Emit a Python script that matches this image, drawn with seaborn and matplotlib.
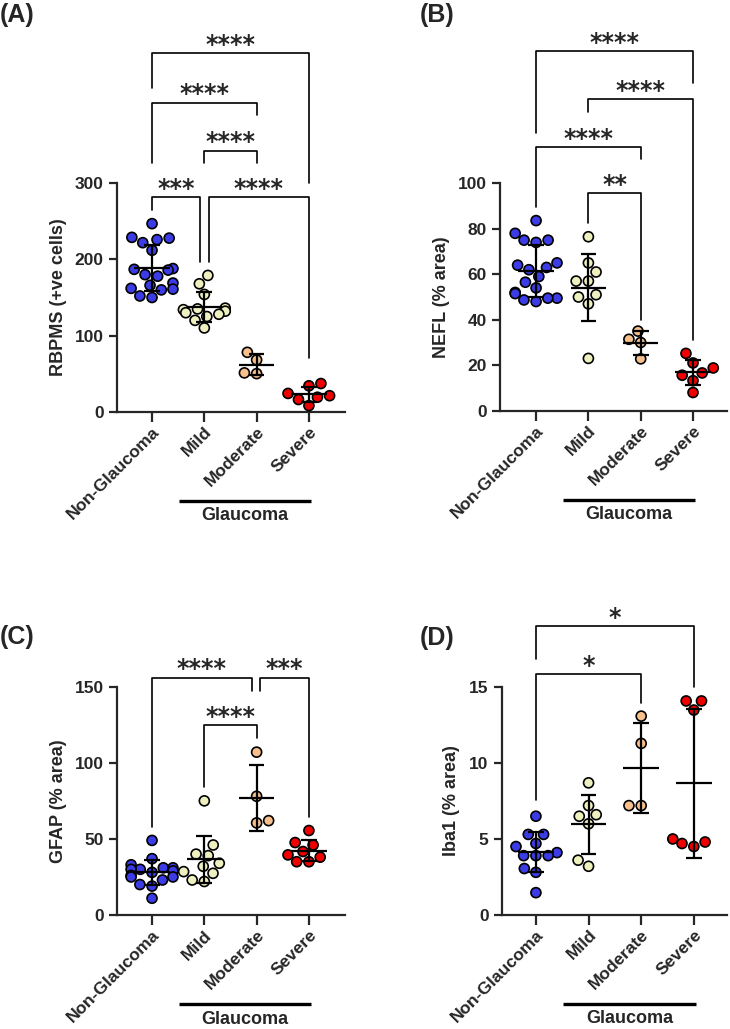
import numpy as np
import pandas as pd
import matplotlib
matplotlib.use('Agg')
import matplotlib.pyplot as plt
import seaborn as sns

groups = ['Non-Glaucoma', 'Mild', 'Moderate', 'Severe']
colors = ['#3C3CE6', '#EEF1BF', '#F7BF8C', '#F00000']

# (A) RBPMS (+ve cells)
rbpms_non = [247, 228, 229, 222, 226, 212, 187, 188, 186, 180, 178, 169, 166, 162, 161, 160, 150, 152]
rbpms_mild = [179, 168, 154, 136, 134, 132, 135, 130, 128, 125, 120, 110]
rbpms_mod = [78, 68, 50, 51]
rbpms_sev = [37, 34, 24, 21, 19, 16, 8]

# (B) NEFL (% area)
nefl_non = [83.6, 78, 75, 75, 74, 65, 64, 63, 62, 59, 56.5, 54, 52, 51.5, 48, 49.5, 48.7, 49.5]
nefl_mild = [76.5, 65, 61, 57, 57, 51, 50, 47, 23]
nefl_mod = [35, 31.4, 30, 22.8]
nefl_sev = [25.2, 21, 18.8, 16.6, 15.6, 13.2, 8]

# (C) GFAP (% area)
gfap_non = [49, 37, 33, 31, 31, 30, 30, 29, 28, 26, 25, 25, 23, 20, 19, 11]
gfap_mild = [75, 46, 40, 39, 34, 32, 28.5, 27.4, 23, 22]
gfap_mod = [107, 78, 62, 60.5]
gfap_sev = [55.5, 47.6, 46, 41.7, 39.5, 38, 35, 35]

# (D) Iba1 (% area)
iba1_non = [6.5, 5.3, 5.3, 4.7, 4.5, 4.1, 3.9, 3.9, 3.9, 3.05, 2.8, 1.46]
iba1_mild = [8.7, 7.2, 6.6, 6.5, 6.0, 3.6, 3.2]
iba1_mod = [13.1, 11.3, 7.2, 7.2]
iba1_sev = [14.1, 14.1, 13.5, 5.0, 4.8, 4.7, 4.5]

# significance brackets: (x1, x2, y, left leg bottom, right leg bottom, label)
brackets_a = [(0, 3, 471, 425, 300, '****'), (0, 2, 406, 327, 390, '****'),
              (1, 2, 343, 327, 327, '****'), (0, 0.91, 282, 265, 196, '***'),
              (1.08, 3, 282, 196, 70, '****')]
brackets_b = [(0, 3, 158, 122, 144, '****'), (1, 3, 137, 131.5, 31, '****'),
              (0, 2, 116, 89.7, 110.5, '****'), (1, 2, 95.6, 82.4, 40, '**')]
brackets_c = [(0, 1.91, 156, 58, 147, '****'), (2.07, 3, 156, 147, 64.5, '***'),
              (1, 2, 124.8, 84, 116, '****')]
brackets_d = [(0, 3, 19.04, 16.84, 15.04, '*'), (0, 2, 15.87, 7.57, 13.94, '*')]

sns.set_theme(style='ticks')
plt.rcParams['font.family'] = ['Liberation Sans', 'DejaVu Sans']
plt.rcParams['font.weight'] = 'bold'
plt.rcParams['axes.labelweight'] = 'bold'

W, H = 730, 1029
fig = plt.figure(figsize=(W / 100, H / 100), dpi=100)


def panel(values, ylabel, yticks, brackets, letter, letter_pos, px, xlim, label_x):
    # px = (left, right, y of zero, y of top tick, top of axes) in pixels
    left, right, y0, ytick_px, top = px
    ax = fig.add_axes([left / W, (H - y0) / H, (right - left) / W, (y0 - top) / H])
    scale = (y0 - ytick_px) / yticks[-1]
    ylim_top = (y0 - top) / scale

    df = pd.DataFrame({'group': np.repeat(groups, [len(v) for v in values]),
                       'value': np.concatenate(values)})
    sns.swarmplot(data=df, x='group', y='value', hue='group', order=groups,
                  palette=colors, legend=False, size=7.2, edgecolor='black',
                  linewidth=1.2, ax=ax, zorder=3)

    for i, v in enumerate(values):
        m, sd = np.mean(v), np.std(v, ddof=1)
        ax.hlines(m, i - 0.34, i + 0.34, color='black', lw=1.6, zorder=4)
        ax.hlines([m - sd, m + sd], i - 0.15, i + 0.15, color='black', lw=1.6, zorder=4)
        ax.vlines(i, m - sd, m + sd, color='black', lw=1.6, zorder=4)

    for x1, x2, y, lb, rb, lab in brackets:
        ax.plot([x1, x1, x2, x2], [lb, y, y, rb], color='black', lw=1.2, clip_on=False)
        ax.annotate(lab, ((x1 + x2) / 2, y), xytext=(0, 1), textcoords='offset points',
                    ha='center', va='baseline', fontsize=17, fontweight='bold',
                    family='DejaVu Sans')

    ax.set_xlim(*xlim)
    ax.set_ylim(0, ylim_top)
    ax.set_yticks(yticks)
    ax.set_xticks(range(4))
    ax.set_xticklabels(groups, rotation=45, ha='right', rotation_mode='anchor', fontsize=12.5)
    ax.tick_params(axis='y', labelsize=12.5, width=1.6, length=6)
    ax.tick_params(axis='x', width=1.6, length=7, pad=2)
    for s in ['top', 'right']:
        ax.spines[s].set_visible(False)
    ax.spines['left'].set_bounds(0, yticks[-1])
    ax.spines['left'].set_linewidth(1.6)
    ax.spines['bottom'].set_linewidth(1.6)
    ax.set_xlabel('')
    ax.set_ylabel(ylabel, fontsize=13)
    ax.yaxis.set_label_coords(label_x, yticks[-1] / 2 / ylim_top)

    # Glaucoma group line under the tick labels
    hpx = y0 - top
    ax.plot([0.52, 3.04], [-89 / hpx, -89 / hpx], color='black', lw=2.4,
            transform=ax.get_xaxis_transform(), clip_on=False, solid_capstyle='butt')
    ax.text(1.78, -104 / hpx, 'Glaucoma', transform=ax.get_xaxis_transform(),
            ha='center', va='center', fontsize=13)

    fig.text(letter_pos[0] / W, 1 - letter_pos[1] / H, letter, fontsize=18,
             fontweight='bold', va='center', ha='left')
    return ax


panel([rbpms_non, rbpms_mild, rbpms_mod, rbpms_sev], 'RBPMS (+ve cells)',
      [0, 100, 200, 300], brackets_a, '(A)', (0, 15),
      (117, 345, 411.7, 183.3, 28), (-0.67, 3.69), -0.22)
panel([nefl_non, nefl_mild, nefl_mod, nefl_sev], 'NEFL (% area)',
      [0, 20, 40, 60, 80, 100], brackets_b, '(B)', (420, 15),
      (500, 727, 410.7, 183.3, 28), (-0.69, 3.65), -0.22)
panel([gfap_non, gfap_mild, gfap_mod, gfap_sev], 'GFAP (% area)',
      [0, 50, 100, 150], brackets_c, '(C)', (0, 637),
      (117, 345, 915, 686.7, 640), (-0.67, 3.69), -0.22)
panel([iba1_non, iba1_mild, iba1_mod, iba1_sev], 'Iba1 (% area)',
      [0, 5, 10, 15], brackets_d, '(D)', (420, 638),
      (501.7, 727, 914.8, 687.3, 600), (-0.65, 3.63), -0.185)

plt.savefig('out.png', dpi=100)
